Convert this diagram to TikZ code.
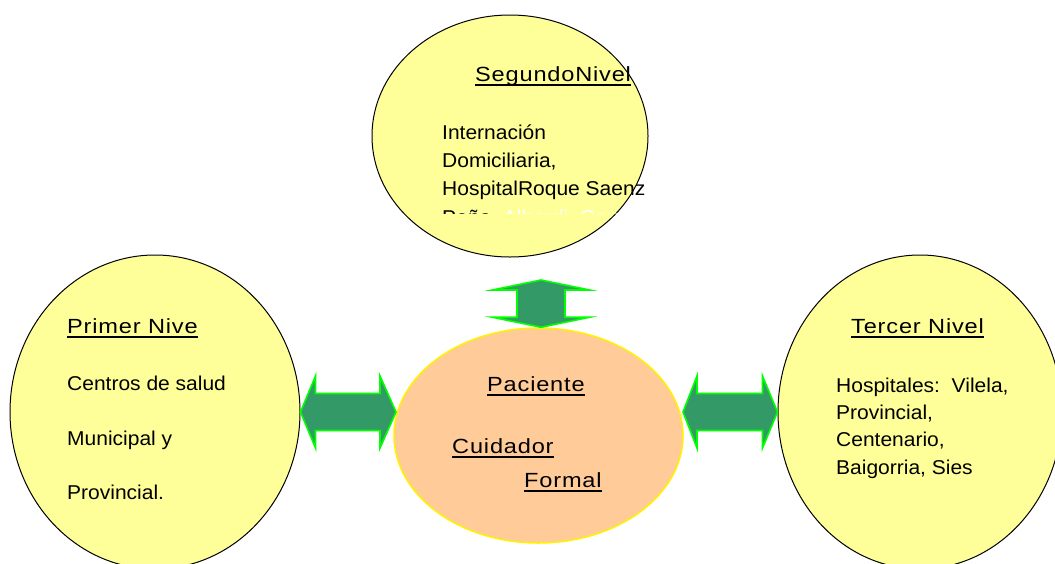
\documentclass[tikz,border=0pt]{standalone}
\usepackage{fontspec}
\setmainfont{Liberation Sans}[FakeStretch=1.05]
\newfontfamily\titfont{Liberation Sans}[FakeStretch=1.15,LetterSpace=4]
\usetikzlibrary{shapes.geometric,calc}
\definecolor{amarillo}{HTML}{FFFF99}
\definecolor{durazno}{HTML}{FFCC99}
\definecolor{verdeosc}{HTML}{339966}
\definecolor{verdeclaro}{HTML}{00FF00}
\begin{document}
\begin{tikzpicture}[x=1pt,y=-1pt,
        nivel/.style={ellipse,draw=black,line width=1pt,fill=amarillo,inner sep=0pt},
        flecha/.style={draw=verdeclaro,fill=verdeosc,line width=1.6pt,line join=miter},
        titulo/.style={anchor=base west,inner sep=0pt,font=\titfont\fontsize{20.5}{24}\selectfont},
        texto/.style={anchor=base west,inner sep=0pt,font=\fontsize{20}{24}\selectfont},
        subraya/.style={line width=1.8pt}]
    \fill[white] (0,0) rectangle (1055,563);
    \useasboundingbox (0,0) rectangle (1055,563);
    % niveles
    \node[nivel,minimum width=276pt,minimum height=242pt] (seg) at (510,136) {};
    \node[nivel,minimum width=290pt,minimum height=314pt] (prim) at (155,412) {};
    \node[nivel,minimum width=284pt,minimum height=314pt] (terc) at (920,412) {};
    \node[ellipse,draw=yellow,line width=1.5pt,fill=durazno,inner sep=0pt,
        minimum width=289pt,minimum height=215pt] (pac) at (538.5,435.5) {};
    % flechas
    \coordinate (a1) at (prim.east);
    \coordinate (b1) at (396,412);
    \coordinate (a2) at (683,412);
    \coordinate (b2) at (terc.west);
    \coordinate (v1) at (541,280);
    \coordinate (v2) at ([xshift=2.5pt]pac.north);
    \draw[flecha] (a1) -- ($(a1)+(15,-36)$) -- ($(a1)+(15,-18.5)$) -- ($(b1)+(-16,-18.5)$)
        -- ($(b1)+(-16,-36)$) -- (b1) -- ($(b1)+(-16,36)$) -- ($(b1)+(-16,18.5)$)
        -- ($(a1)+(15,18.5)$) -- ($(a1)+(15,36)$) -- cycle;
    \draw[flecha] (a2) -- ($(a2)+(14,-36)$) -- ($(a2)+(14,-18.5)$) -- ($(b2)+(-15,-18.5)$)
        -- ($(b2)+(-15,-36)$) -- (b2) -- ($(b2)+(-15,36)$) -- ($(b2)+(-15,18.5)$)
        -- ($(a2)+(14,18.5)$) -- ($(a2)+(14,36)$) -- cycle;
    \draw[flecha] (v1) -- ($(v1)+(48.5,10)$) -- ($(v1)+(24,10)$) -- ($(v2)+(24,-10)$)
        -- ($(v2)+(48.5,-10)$) -- (v2) -- ($(v2)+(-48.5,-10)$) -- ($(v2)+(-24,-10)$)
        -- ($(v1)+(-24,10)$) -- ($(v1)+(-48.5,10)$) -- cycle;
    % segundo nivel
    \node[titulo] (segtit) at (475,81) {SegundoNivel};
    \node[texto] (seg1) at (442,139.5) {Internación};
    \node[texto] (seg2) at (442,167.5) {Domiciliaria,};
    \node[texto] (seg3) at (442,195.5) {HospitalRoque Saenz};
    \begin{scope}
        \clip (430,195) rectangle (650,213);
        \node[texto] (seg4) at (442,224) {Peña, \textcolor{white}{Alberdi, Carrasco}};
    \end{scope}
    % primer nivel
    \node[titulo] (primtit) at (67,333) {Primer Nive};
    \node[texto] (prim1) at (67,390) {Centros de salud};
    \node[texto] (prim2) at (67,445) {Municipal y};
    \node[texto] (prim3) at (67,499) {Provincial.};
    % tercer nivel
    \node[titulo] (tertit) at (851,333) {Tercer Nivel};
    \node[texto] (terc1) at (836,392) {Hospitales:\ \ Vilela,};
    \node[texto] (terc2) at (836,419) {Provincial,};
    \node[texto] (terc3) at (836,446) {Centenario,};
    \node[texto] (terc4) at (836,474) {Baigorria, Sies};
    % paciente
    \node[titulo] (pactit) at (487,391) {Paciente};
    \node[titulo] (cuid) at (452,453) {Cuidador};
    \node[titulo] (form) at (524,487) {Formal};
    % subrayados
    \foreach \t in {segtit,primtit,tertit,pactit,cuid,form}
        \draw[subraya] ([yshift=-3.8pt]\t.base west) -- ([yshift=-3.8pt]\t.base east);
\end{tikzpicture}
\end{document}
